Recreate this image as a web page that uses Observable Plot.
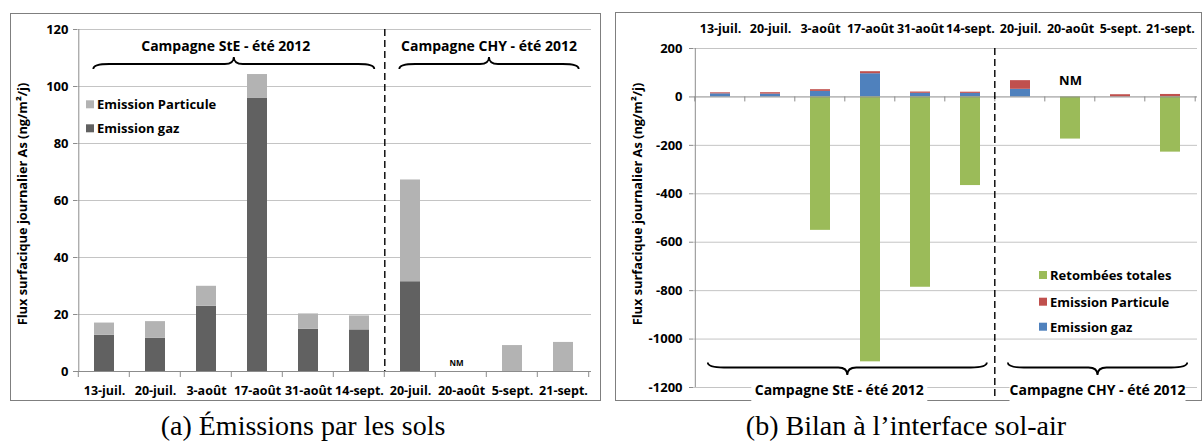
<!DOCTYPE html>
<html>
<head>
<meta charset="utf-8">
<script src="https://cdn.jsdelivr.net/npm/d3@7"></script>
<script src="https://cdn.jsdelivr.net/npm/@observablehq/plot@0.6"></script>
<style>
  html, body { margin: 0; padding: 0; background: #fff; }
  #root { position: relative; width: 1202px; height: 443px; overflow: hidden; }
  .frame { position: absolute; border: 1px solid #7f7f7f; box-sizing: border-box; }
  .panel { position: absolute; top: 0; }
  .caption { position: absolute; top: 411px; width: 600px; text-align: center;
             font-family: "Liberation Serif", serif; font-size: 28px; line-height: 30px; color: #000; }
</style>
</head>
<body>
<div id="root">
  <div class="frame" style="left:10px;top:13px;width:591px;height:388px;"></div>
  <div class="frame" style="left:615px;top:12px;width:587px;height:389px;"></div>
  <div id="left" class="panel" style="left:0px;"></div>
  <div id="right" class="panel" style="left:601px;"></div>
  <div id="capA" class="caption" style="left:3px;"></div>
  <div id="capB" class="caption" style="left:606px;"></div>
</div>
<script>
// ---------------- data ----------------
const dates = ["13-juil.", "20-juil.", "3-août", "17-août", "31-août", "14-sept.", "20-juil.", "20-août", "5-sept.", "21-sept."];
const emissionGaz = [12.7, 11.7, 22.9, 95.8, 14.8, 14.6, 31.5, null, 0, 0];
const emissionParticule = [4.3, 5.8, 7.0, 8.4, 5.4, 4.9, 35.7, null, 9.1, 10.2];
const retombeesTotales = [null, null, -551, -1094, -786, -366, null, -174, null, -228];
const seriesNames = ["Emission gaz", "Emission Particule", "Retombées totales"];
const campaignNames = ["Campagne StE - été 2012", "Campagne CHY - été 2012"];
const campaignFirst = [0, 6];
const campaignLast = [5, 9];
const nmIndex = [7];
const nmText = "NM";
const leftTicks = [0, 20, 40, 60, 80, 100, 120];
const rightTicks = [200, 0, -200, -400, -600, -800, -1000, -1200];
const leftColors = ["#616161", "#b3b3b3"];
const rightColors = ["#4f81bd", "#c0504d", "#9bbb59"];
const yTitle = "Flux surfacique journalier As (ng/m²/j)";
const captions = ["(a) Émissions par les sols", "(b) Bilan à l’interface sol-air"];

// ---------------- tables ----------------
const idx = d3.range(dates.length);
const leftRows = [];
const rightRows = [];
idx.forEach(i => {
  if (emissionGaz[i] != null) { leftRows.push({i, serie: seriesNames[0], v: emissionGaz[i]}); rightRows.push({i, serie: seriesNames[0], v: emissionGaz[i]}); }
  if (emissionParticule[i] != null) { leftRows.push({i, serie: seriesNames[1], v: emissionParticule[i]}); rightRows.push({i, serie: seriesNames[1], v: emissionParticule[i]}); }
  if (retombeesTotales[i] != null) rightRows.push({i, serie: seriesNames[2], v: retombeesTotales[i]});
});

const W = 601, H = 403;
const AXIS = "#8c8c8c", GRID = "#c4c4c4";
const baseStyle = "font-family:'Open Sans',sans-serif;font-size:13px;font-weight:700;color:#000;background:transparent;overflow:visible;";

// ---------------- left chart ----------------
const mL = {left: 77, right: 10, top: 29, bottom: 32};
const stepL = (W - mL.left - mL.right) / dates.length;
const left = Plot.plot({
  width: W, height: H,
  marginLeft: mL.left, marginRight: mL.right, marginTop: mL.top, marginBottom: mL.bottom,
  style: baseStyle,
  x: {domain: idx, paddingInner: 0.6, paddingOuter: 0.3, axis: null, label: null},
  y: {domain: [0, 120], axis: null, label: null},
  color: {domain: seriesNames.slice(0, 2), range: leftColors},
  marks: [
    Plot.gridY(leftTicks.filter(t => t > 0), {stroke: GRID, strokeOpacity: 1}),
    Plot.barY(leftRows, {x: "i", y: "v", fill: "serie", order: seriesNames}),
    Plot.ruleY([0], {stroke: AXIS}),
    Plot.ruleX([0], {x: d => d, dx: -stepL / 2, stroke: AXIS}),
    Plot.ruleX([campaignFirst[1]], {x: d => d, dx: -stepL / 2, stroke: "#000", strokeWidth: 1.4, strokeDasharray: "7,4"}),
    Plot.axisY({ticks: leftTicks, tickSize: 4, tickPadding: 5, stroke: AXIS, tickFormat: d => String(d), label: null}),
    Plot.axisX({anchor: "bottom", tickSize: 0, tickPadding: 15, tickFormat: i => dates[i], label: null, fontSize: 12.5}),
    Plot.text(nmIndex, {x: d => d, y: 0, dy: -8, dx: -5, text: () => nmText, fontSize: 8})
  ]
});
document.getElementById("left").appendChild(left);

// ---------------- right chart ----------------
const mR = {left: 92, right: 5, top: 48, bottom: 16};
const stepR = (W - mR.left - mR.right) / dates.length;
const right = Plot.plot({
  width: W, height: H,
  marginLeft: mR.left, marginRight: mR.right, marginTop: mR.top, marginBottom: mR.bottom,
  style: baseStyle,
  x: {domain: idx, paddingInner: 0.6, paddingOuter: 0.3, axis: null, label: null},
  y: {domain: [-1200, 200], axis: null, label: null},
  color: {domain: seriesNames, range: rightColors},
  marks: [
    Plot.gridY(rightTicks.filter(t => t !== 0), {stroke: GRID, strokeOpacity: 1}),
    Plot.barY(rightRows, {x: "i", y: "v", fill: "serie", order: seriesNames}),
    Plot.ruleY([0], {stroke: AXIS}),
    Plot.ruleX([0], {x: d => d, dx: -stepR / 2, stroke: AXIS}),
    Plot.axisY({ticks: rightTicks, tickSize: 4, tickPadding: 7, stroke: AXIS, tickFormat: d => String(d), label: null}),
    Plot.axisX({anchor: "top", tickSize: 0, tickPadding: 16, tickFormat: i => dates[i], label: null, fontSize: 12.5}),
    Plot.text(nmIndex, {x: d => d, y: 0, dy: -16, text: () => nmText, fontSize: 13})
  ]
});
document.getElementById("right").appendChild(right);

// ---------------- annotations ----------------
function bounds(chart, step) {
  const sx = chart.scale("x");
  return d3.range(dates.length + 1).map(k =>
    k < dates.length ? sx.apply(k) + sx.bandwidth / 2 - step / 2
                     : sx.apply(dates.length - 1) + sx.bandwidth / 2 + step / 2);
}
function bracePath(x1, x2, yEnd, yBody, yTip) {
  const xm = (x1 + x2) / 2, r = 16, t = 9;
  return `M${x1},${yEnd} Q${x1},${yBody} ${x1 + r},${yBody} L${xm - t},${yBody} Q${xm},${yBody} ${xm},${yTip} ` +
         `Q${xm},${yBody} ${xm + t},${yBody} L${x2 - r},${yBody} Q${x2},${yBody} ${x2},${yEnd}`;
}
function annotate(chart, step, opts) {
  const g = d3.select(chart).append("g").attr("text-anchor", "start");
  const b = bounds(chart, step);
  const y0 = chart.scale("y").apply(0);
  // category separator ticks
  g.selectAll("line.tk").data(b).join("line").attr("class", "tk")
    .attr("x1", d => d).attr("x2", d => d).attr("y1", y0).attr("y2", y0 + opts.tick)
    .attr("stroke", AXIS);
  // y title
  g.append("text").attr("transform", `translate(${opts.titleX},${opts.titleY}) rotate(-90)`)
    .attr("text-anchor", "middle").attr("dominant-baseline", "central")
    .attr("font-size", 12.8).attr("font-weight", 700).text(yTitle);
  // braces + campaign labels
  campaignNames.forEach((name, k) => {
    const x1 = b[campaignFirst[k]] + opts.braceIn[0];
    const x2 = b[campaignLast[k] + 1] - opts.braceIn[1];
    const xm = (x1 + x2) / 2 + (k === 0 ? -8 : 0);
    if (opts.box) {
      g.append("rect").attr("x", xm - 88).attr("y", opts.textY - 10).attr("width", 176).attr("height", 22).attr("fill", "#fff");
    }
    g.append("path").attr("d", bracePath(x1, x2, opts.brace[0], opts.brace[1], opts.brace[2]))
      .attr("fill", "none").attr("stroke", "#000").attr("stroke-width", 1.8);
    g.append("text").attr("x", xm).attr("y", opts.textY).attr("text-anchor", "middle")
      .attr("dominant-baseline", "central").attr("font-size", 14).attr("font-weight", 700).text(name);
  });
  // legend
  opts.legend.forEach(item => {
    g.append("rect").attr("x", opts.legX).attr("y", item.y - 4).attr("width", 8).attr("height", 8).attr("fill", item.color);
    g.append("text").attr("x", opts.legX + 11).attr("y", item.y).attr("text-anchor", "start")
      .attr("dominant-baseline", "central").attr("font-size", 13).attr("font-weight", 700).text(item.name);
  });
  return {g, b};
}
annotate(left, stepL, {
  tick: 6, titleX: 21.7, titleY: 204, braceIn: [15, 10], brace: [69, 64, 57], textY: 45, box: false,
  legX: 86, legend: [{name: seriesNames[1], color: leftColors[1], y: 104.3}, {name: seriesNames[0], color: leftColors[0], y: 128.3}]
});
const ra = annotate(right, stepR, {
  tick: 5, titleX: 35.7, titleY: 204, braceIn: [13, 8], brace: [362.5, 367.5, 375], textY: 389.3, box: true,
  legX: 438, legend: [{name: seriesNames[2], color: rightColors[2], y: 275}, {name: seriesNames[1], color: rightColors[1], y: 301.7}, {name: seriesNames[0], color: rightColors[0], y: 326.7}]
});
// right dashed separator, running down to the frame
ra.g.append("line").attr("x1", ra.b[campaignFirst[1]]).attr("x2", ra.b[campaignFirst[1]])
  .attr("y1", right.scale("y").apply(200)).attr("y2", 400)
  .attr("stroke", "#000").attr("stroke-width", 1.4).attr("stroke-dasharray", "7,4");

document.getElementById("capA").textContent = captions[0];
document.getElementById("capB").textContent = captions[1];
</script>
</body>
</html>
